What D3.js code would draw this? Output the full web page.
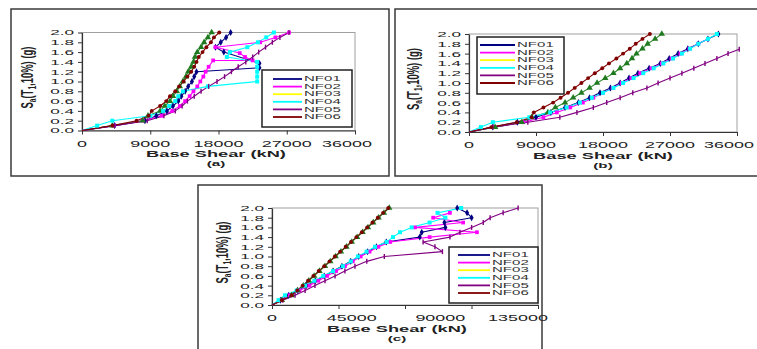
<!DOCTYPE html>
<html><head><meta charset="utf-8">
<script src="https://cdn.jsdelivr.net/npm/d3@7"></script>
<style>body{margin:0;background:#fff}svg{display:block}</style>
</head><body><svg id="chart" width="757" height="349"></svg>
<script>
// ---------------- DATA ----------------
const seriesNames = ["NF01","NF02","NF03","NF04","NF05","NF06"];
const yTickValues = [0,0.2,0.4,0.6,0.8,1.0,1.2,1.4,1.6,1.8,2.0];
const xTicksA = [0,9000,18000,27000,36000];
const xTicksB = [0,9000,18000,27000,36000];
const xTicksC = [0,33750,67500,101250,135000];
const xLabelsC = [0,45000,90000,135000];
const panelTags = ["(a)","(b)","(c)"];

// Panel (a)  [base shear kN, Sa g]
const a_NF01 = [[0,0],[4300,0.1],[8300,0.2],[9800,0.3],[11200,0.4],[12000,0.5],[12700,0.6],[13100,0.7],[13600,0.8],[14000,0.9],[14500,1.0],[14800,1.1],[15100,1.2],[23400,1.28],[23400,1.37],[18700,1.6],[17600,1.7],[18300,1.8],[19000,1.9],[19600,2.0]];
const a_NF02 = [[0,0],[4200,0.1],[8000,0.2],[10500,0.3],[11900,0.4],[12900,0.5],[13600,0.6],[14200,0.7],[14700,0.8],[15200,0.9],[15600,1.0],[16000,1.1],[16300,1.2],[16700,1.3],[17300,1.43],[22500,1.43],[21500,1.5],[20800,1.58],[17600,1.7],[23500,1.8],[25500,1.9],[27300,2.0]];
const a_NF03 = [[0,0],[4000,0.1],[8000,0.2],[8700,0.3],[10300,0.4],[10900,0.5],[11600,0.6],[12000,0.7],[12500,0.8],[12900,0.9],[13300,1.0],[13700,1.1],[14000,1.2],[14400,1.3],[14700,1.4],[14900,1.5],[15200,1.6],[15700,1.7],[16100,1.8],[16600,1.9],[17100,2.0]];
const a_NF04 = [[0,0],[2000,0.1],[4000,0.2],[9000,0.3],[10700,0.4],[11500,0.5],[12300,0.6],[12700,0.7],[13300,0.8],[16600,0.9],[23100,1.0],[23100,1.1],[23100,1.2],[23100,1.3],[23100,1.4],[19100,1.5],[19500,1.6],[21800,1.7],[23200,1.8],[24300,1.9],[25300,2.0]];
const a_NF05 = [[0,0],[4300,0.1],[8600,0.2],[10800,0.3],[12300,0.4],[13200,0.5],[13900,0.6],[14800,0.7],[15700,0.8],[16700,0.9],[17800,1.0],[18800,1.1],[19700,1.2],[20600,1.3],[21600,1.4],[22500,1.5],[23300,1.6],[24200,1.7],[25100,1.8],[26100,1.9],[27300,2.0]];
const a_NF06 = [[0,0],[4000,0.1],[7200,0.2],[8800,0.3],[9200,0.4],[10300,0.5],[11100,0.6],[11600,0.7],[12300,0.8],[12800,0.9],[13400,1.0],[13900,1.1],[14400,1.2],[14800,1.3],[15100,1.4],[15400,1.5],[15900,1.6],[16400,1.7],[17000,1.8],[17400,1.9],[18100,2.0]];

// Panel (b)
const b_NF01 = [[0,0],[3200,0.1],[6500,0.2],[9000,0.3],[11000,0.4],[12900,0.5],[14700,0.6],[16200,0.7],[17600,0.8],[19000,0.9],[20300,1.0],[21500,1.1],[22700,1.2],[24200,1.3],[25700,1.4],[26900,1.5],[28100,1.6],[29400,1.7],[30800,1.8],[32100,1.9],[33500,2.0]];
const b_NF02 = [[0,0],[3300,0.1],[7300,0.2],[10000,0.3],[11800,0.4],[13600,0.5],[15300,0.6],[16700,0.7],[18000,0.8],[19300,0.9],[20500,1.0],[21800,1.1],[23000,1.2],[24500,1.3],[25900,1.4],[27200,1.5],[28400,1.6],[29600,1.7],[30800,1.8],[32100,1.9]];
const b_NF03 = [[0,0],[3500,0.1],[7100,0.2],[8400,0.3],[10600,0.4],[11600,0.5],[12900,0.6],[14000,0.7],[15100,0.8],[16200,0.9],[17200,1.0],[18300,1.1],[19400,1.2],[20300,1.3],[21200,1.4],[21900,1.5],[22500,1.6],[23300,1.7],[24000,1.8],[25000,1.9],[25900,2.0]];
const b_NF04 = [[0,0],[1600,0.1],[3200,0.2],[8100,0.3],[10900,0.4],[13100,0.5],[14900,0.6],[16500,0.7],[18000,0.8],[19400,0.9],[20700,1.0],[22100,1.1],[23400,1.2],[24800,1.3],[26100,1.4],[27400,1.5],[28600,1.6],[29700,1.7],[30800,1.8],[32100,1.9],[33300,2.0]];
const b_NF05 = [[0,0],[3200,0.1],[7900,0.2],[12200,0.3],[14500,0.4],[16700,0.5],[18500,0.6],[20300,0.7],[22000,0.8],[23900,0.9],[25400,1.0],[27000,1.1],[28600,1.2],[30200,1.3],[31700,1.4],[33300,1.5],[34800,1.6],[36300,1.69]];
const b_NF06 = [[0,0],[3000,0.1],[6400,0.2],[8400,0.3],[8700,0.4],[10000,0.5],[11300,0.6],[12300,0.7],[13300,0.8],[14200,0.9],[15100,1.0],[16000,1.1],[16900,1.2],[17900,1.3],[18800,1.4],[19800,1.5],[20700,1.6],[21600,1.7],[22400,1.8],[23300,1.9],[24300,2.0]];

// Panel (c)
const c_NF01 = [[0,0],[4300,0.1],[8500,0.2],[13000,0.3],[17500,0.4],[22000,0.5],[26500,0.6],[31000,0.7],[35500,0.8],[40000,0.9],[44000,1.0],[48500,1.1],[53000,1.2],[58000,1.3],[75000,1.4],[76000,1.5],[88000,1.6],[87500,1.7],[101300,1.8],[99000,1.9],[94000,2.0]];
const c_NF02 = [[0,0],[4500,0.1],[9000,0.2],[14000,0.3],[19000,0.4],[23500,0.5],[28000,0.6],[32500,0.7],[37000,0.8],[41000,0.9],[45000,1.0],[49500,1.1],[54000,1.2],[60000,1.3],[80000,1.4],[104000,1.5],[72600,1.6],[97000,1.7],[81800,1.8],[90300,1.9]];
const c_NF03 = [[0,0],[5000,0.1],[10000,0.2],[13000,0.3],[15900,0.4],[18700,0.5],[21400,0.6],[24100,0.7],[26900,0.8],[29600,0.9],[32300,1.0],[35000,1.1],[37800,1.2],[40500,1.3],[43200,1.4],[46000,1.5],[48700,1.6],[51400,1.7],[54100,1.8],[56800,1.9],[59500,2.0]];
const c_NF04 = [[0,0],[3300,0.1],[6600,0.2],[12500,0.3],[16800,0.4],[21500,0.5],[26000,0.6],[31000,0.7],[36000,0.8],[40000,0.9],[43600,1.0],[48000,1.1],[52300,1.2],[58200,1.3],[61400,1.4],[65000,1.5],[70900,1.6],[80000,1.7],[88000,1.8],[84000,1.9],[96000,2.0]];
const c_NF05 = [[0,0],[5500,0.1],[11700,0.2],[16800,0.3],[21800,0.4],[26900,0.5],[32000,0.6],[37000,0.7],[42100,0.8],[48100,0.9],[57000,1.0],[86500,1.1],[82700,1.2],[76700,1.3],[90300,1.4],[95400,1.5],[101300,1.6],[107200,1.7],[110700,1.8],[117300,1.9],[124900,2.0]];
const c_NF06 = [[0,0],[5000,0.1],[10000,0.2],[12800,0.3],[15600,0.4],[18300,0.5],[21000,0.6],[23700,0.7],[26500,0.8],[29200,0.9],[31900,1.0],[34600,1.1],[37400,1.2],[40100,1.3],[42800,1.4],[45600,1.5],[48300,1.6],[51000,1.7],[53700,1.8],[56400,1.9],[59000,2.0]];

// ---------------- STYLE ----------------
const lineColors   = ["#000080","#ff00ff","#2f8a2f","#00ffff","#800080","#800000"];
const legendColors = ["#000080","#ff00ff","#ffff00","#00ffff","#800080","#800000"];
const markerFill   = ["#000080","#ff00ff","#1f7a1f","#00ffff","#800080","#800000"];
const markerType   = [d3.symbolDiamond, d3.symbolSquare, d3.symbolTriangle, d3.symbolSquare, "bar", d3.symbolCircle];
const markerSize   = [14, 14, 18, 16, 0, 12];
const SX = 1.9;          // horizontal stretch of text in the picture
const FONT = "'Liberation Sans', Arial, sans-serif";

const panels = [
  {box:[11,9,378,167], plot:{l:82,r:355,t:32.5,b:130.5}, xMax:36000, xTicks:xTicksA, xLabels:xTicksA,
   data:[a_NF01,a_NF02,a_NF03,a_NF04,a_NF05,a_NF06], legend:{x:262,y:70,w:90,h:57,ly:79,lx1:273,lx2:302,tx:304},
   titleX:216, ytX:27, lastDx:-8, midDx:0},
  {box:[395,9,400,167], plot:{l:469,r:737,t:34,b:132}, xMax:36000, xTicks:xTicksB, xLabels:xTicksB,
   data:[b_NF01,b_NF02,b_NF03,b_NF04,b_NF05,b_NF06], legend:{x:477,y:37,w:87,h:57,ly:45,lx1:480,lx2:515,tx:517},
   titleX:603, ytX:413, lastDx:-8, midDx:0},
  {box:[198,185,344,200], plot:{l:272,r:538,t:208,b:305}, xMax:135000, xTicks:xTicksC, xLabels:xLabelsC,
   data:[c_NF01,c_NF02,c_NF03,c_NF04,c_NF05,c_NF06], legend:{x:449,y:247,w:89,h:56,ly:255,lx1:458,lx2:490,tx:492},
   titleX:397, ytX:222, lastDx:-20, midDx:-9}
];

const svg = d3.select("#chart");
svg.append("rect").attr("width",757).attr("height",349).attr("fill","#fff");

function stext(parent, x, y, str, o = {}) {
  const g = parent.append("g").attr("transform", `translate(${x},${y}) scale(${o.sx || SX},1)`);
  return g.append("text").attr("text-anchor", o.anchor || "middle").attr("dy", "0.35em")
    .attr("font-family", FONT).attr("font-size", o.size || 9.5)
    .attr("font-weight", o.weight || "normal").attr("fill", o.fill || "#222").text(str);
}

panels.forEach((p, pi) => {
  const g = svg.append("g");
  g.append("rect").attr("x",p.box[0]).attr("y",p.box[1]).attr("width",p.box[2]).attr("height",p.box[3])
    .attr("fill","#fff").attr("stroke","#3a3a3a").attr("stroke-width",1.5);

  const x = d3.scaleLinear().domain([0, p.xMax]).range([p.plot.l, p.plot.r]);
  const y = d3.scaleLinear().domain([0, 2]).range([p.plot.b, p.plot.t]);

  g.append("rect").attr("x",p.plot.l).attr("y",p.plot.t).attr("width",p.plot.r-p.plot.l).attr("height",p.plot.b-p.plot.t)
    .attr("fill","none").attr("stroke","#a0a0a0").attr("stroke-width",1);

  const ysx = 2.2;
  const ya = g.append("g").attr("transform",`translate(${p.plot.l},0)`)
    .call(d3.axisLeft(y).tickValues(yTickValues).tickSize(4).tickSizeOuter(0).tickFormat(d3.format(".1f")));
  ya.select(".domain").attr("stroke","#333").attr("stroke-width",1.2);
  ya.selectAll(".tick line").attr("stroke","#333");
  ya.selectAll(".tick text").attr("font-family",FONT).attr("font-size",7.8).attr("fill","#222")
    .attr("x", -8/ysx).attr("transform",`scale(${ysx},1)`);

  const xa = g.append("g").attr("transform",`translate(0,${p.plot.b})`)
    .call(d3.axisBottom(x).tickValues(p.xTicks).tickSize(4).tickSizeOuter(0).tickFormat(""));
  xa.select(".domain").attr("stroke","#333").attr("stroke-width",1.2);
  xa.selectAll(".tick line").attr("stroke","#333");
  p.xLabels.forEach((v, i) => {
    const last = i === p.xLabels.length - 1;
    const dx = v === 0 ? 0 : (last ? p.lastDx : p.midDx);
    stext(g, x(v) + dx, p.plot.b + 13, String(v), {size:9.2, sx:1.95});
  });

  stext(g, p.titleX, p.plot.b + 23.5, "Base Shear (kN)", {weight:"bold", size:9.6, fill:"#222"});
  stext(g, p.titleX, p.plot.b + 33, panelTags[pi], {weight:"bold", size:8, fill:"#222"});

  const yc = (p.plot.t + p.plot.b) / 2 - 4;
  const yt = g.append("g").attr("transform",`translate(${p.ytX},${yc}) rotate(-90) scale(1,1.75)`)
    .append("text").attr("text-anchor","middle").attr("dy","0.35em")
    .attr("font-family",FONT).attr("font-size",9.5).attr("font-weight","bold").attr("fill","#222");
  yt.append("tspan").text("S");
  yt.append("tspan").attr("font-size",6.5).attr("dy",2).text("a");
  yt.append("tspan").attr("dy",-2).text("(T");
  yt.append("tspan").attr("font-size",6.5).attr("dy",2).text("1");
  yt.append("tspan").attr("dy",-2).text(",10%) (g)");

  const line = d3.line().x(d => x(d[0])).y(d => y(d[1]));
  p.data.forEach((ser, si) => {
    g.append("path").datum(ser).attr("d", line).attr("fill","none")
      .attr("stroke", lineColors[si]).attr("stroke-width", 1.1).attr("stroke-linejoin","round");
  });
  p.data.forEach((ser, si) => {
    const mg = g.append("g");
    ser.slice(1).forEach(d => {
      if (markerType[si] === "bar") {
        mg.append("path").attr("transform",`translate(${x(d[0])},${y(d[1])})`)
          .attr("d","M0,-2.5V2.5").attr("stroke",markerFill[si]).attr("stroke-width",1.4);
      } else {
        mg.append("path").attr("transform",`translate(${x(d[0])},${y(d[1])})`)
          .attr("d", d3.symbol().type(markerType[si]).size(markerSize[si])()).attr("fill", markerFill[si]);
      }
    });
  });

  const L = p.legend;
  g.append("rect").attr("x",L.x).attr("y",L.y).attr("width",L.w).attr("height",L.h)
    .attr("fill","#fff").attr("stroke","#222").attr("stroke-width",1.5);
  seriesNames.forEach((n, i) => {
    const yy = L.ly + i * 7.6;
    g.append("line").attr("x1",L.lx1).attr("x2",L.lx2).attr("y1",yy).attr("y2",yy)
      .attr("stroke",legendColors[i]).attr("stroke-width",1.8);
    stext(g, L.tx, yy, n, {anchor:"start", size:6.4, sx:2.35, fill:"#333"});
  });
});
</script></body></html>
